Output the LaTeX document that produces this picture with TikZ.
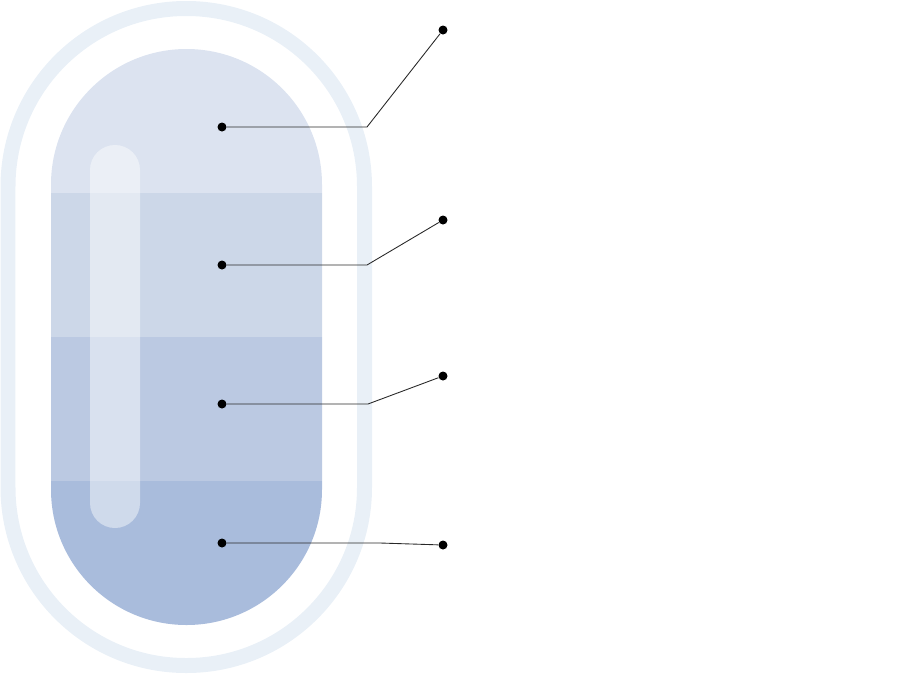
\documentclass[tikz,border=0pt]{standalone}
\definecolor{RimBlue}{RGB}{233, 240, 247}
\definecolor{BandA}{RGB}{220, 227, 240}
\definecolor{BandB}{RGB}{204, 215, 232}
\definecolor{BandC}{RGB}{187, 201, 226}
\definecolor{BandD}{RGB}{169, 188, 220}
\definecolor{LeadGray}{RGB}{40, 40, 40}
\usepackage{tikz}
\usetikzlibrary{positioning, calc}

\begin{document}
\begin{tikzpicture}[x=0.02cm, y=-0.02cm,
  dot/.style={circle, fill=black, inner sep=0pt, minimum size=0.18cm},
  lead/.style={LeadGray, line width=0.5pt},
  rim/.style={draw=RimBlue, line width=0.3cm, rounded corners=3.56cm},
  shine/.style={fill=white, fill opacity=0.45, rounded corners=0.5cm}]
\useasboundingbox (0,0) rectangle (900,674);
% outer rim
\draw[rim] (8,8.5) rectangle (364.5,665.5);
% banded body
\begin{scope}
  \clip[rounded corners=2.71cm] (51,49) rectangle (322,625);
  \fill[BandA] (40,40) rectangle (330,193);
  \fill[BandB] (40,193) rectangle (330,337);
  \fill[BandC] (40,337) rectangle (330,481);
  \fill[BandD] (40,481) rectangle (330,635);
\end{scope}
\fill[shine] (90,145) rectangle (140,528);
% markers
\node[dot] (p1) at (222,127) {};
\node[dot] (p2) at (222,265) {};
\node[dot] (p3) at (222,404) {};
\node[dot] (p4) at (222,543) {};
\node[dot] (t1) at (443,30) {};
\node[dot] (t2) at (443,220) {};
\node[dot] (t3) at (443,376) {};
\node[dot] (t4) at (443,545) {};
\coordinate (k1) at (367,127);
\coordinate (k2) at (367,265);
\coordinate (k3) at (368,404);
\coordinate (k4) at (380,543);
\draw[lead] (p1) -- (k1) -- (t1);
\draw[lead] (p2) -- (k2) -- (t2);
\draw[lead] (p3) -- (k3) -- (t3);
\draw[lead] (p4) -- (k4) -- (t4);
\end{tikzpicture}
\end{document}
